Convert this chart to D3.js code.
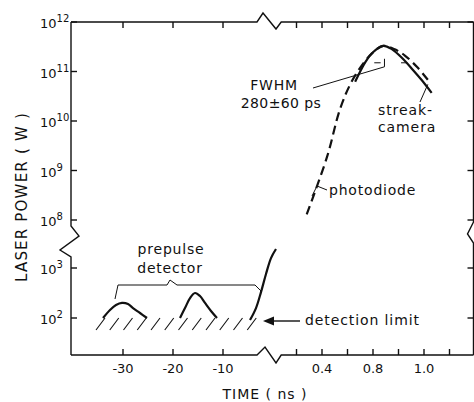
<!DOCTYPE html>
<html>
<head>
<meta charset="utf-8">
<script src="https://cdn.jsdelivr.net/npm/d3@7"></script>
<style>
  body { margin: 0; background: #fff; }
  text { font-family: "DejaVu Sans", sans-serif; fill: #111; }
</style>
</head>
<body>
<div id="chart"></div>
<script>
// values (time in ns, power in W)
const prepulse1T = [-34, -32.6, -31.4, -30.2, -29, -28, -26.6, -25.2];
const prepulse1P = [100, 145, 182, 200, 190, 158, 126, 100];
const prepulse2T = [-18.6, -17.6, -16.6, -15.6, -14.6, -13.6, -12.4, -11.2];
const prepulse2P = [100, 158, 250, 316, 275, 200, 138, 100];
const riseT = [-4.6, -3.4, -2.4, -1.4, -0.4, 0.6];
const riseP = [91, 158, 330, 760, 1580, 2400];
const photodiodeT = [0.28, 0.44, 0.54, 0.62, 0.70, 0.79, 0.88, 0.97, 1.05, 1.15, 1.23];
const photodiodeP = [1.3e8, 1.9e9, 1.7e10, 5.4e10, 1.2e11, 2.3e11, 3.3e11, 2.8e11, 2.1e11, 1.2e11, 6.8e10];
const streakT = [0.66, 0.74, 0.80, 0.88, 0.95, 1.03, 1.11, 1.18, 1.26];
const streakP = [6.2e10, 1.55e11, 2.45e11, 3.3e11, 2.8e11, 1.85e11, 1.1e11, 6.8e10, 3.7e10];

// axis ticks
const leftTicks = [-30, -20, -10];
const rightTicks = [0.2, 0.4, 0.6, 0.8, 1.0, 1.2, 1.4];
const rightLabelAt = [0.4, 0.8, 1.2];
const rightLabels = ["0.4", "0.8", "1.0"];
const upperExp = [12, 11, 10, 9, 8];
const lowerExp = [3, 2];

const W = 474, H = 402;
const svg = d3.select("#chart").append("svg")
    .attr("width", W)
    .attr("height", H);

// broken axes: two time pieces, two power pieces
const xL = d3.scaleLinear().domain([-40.4, 0]).range([71, 273]);
const xR = d3.scaleLinear().domain([0.4, 1.4]).range([322, 449.5]);
const yUp = d3.scaleLog().domain([1e8, 1e12]).range([220, 22]);
const yLo = d3.scaleLog().domain([1e2, 1e3]).range([318, 268]);

const x0 = 71, x1 = 473.5, y0 = 22, y1 = 355;
const bx0 = xL(-3.2), bx1 = xR(0.08);
const by0 = yUp(1e8) + 6, by1 = yLo(Math.pow(10, 3.22));

const ax = svg.append("g")
    .attr("fill", "none")
    .attr("stroke", "#111")
    .attr("stroke-width", 1.4);

// frame with the zigzag breaks
ax.append("path").attr("d", `M${x0},${y0}H${bx0}L${bx0 + 6},${y0 - 9}L${bx0 + 19},${y0 + 7}L${bx1},${y0}H${x1}`);
ax.append("path").attr("d", `M${x0},${y1}H${bx0}L${bx0 + 8},${y1 - 8}L${bx0 + 19},${y1 + 8}L${bx1},${y1}H${x1}`);
ax.append("path").attr("d", `M${x0},${y0}V${by0}L${x0 + 8},${by0 + 10}L${x0 - 11},${by0 + 24}L${x0},${by1}V${y1}`);
ax.append("path").attr("d", `M${x1},${y0}V${by0 - 4}L${x1 - 6},${by0 + 8}L${x1},${by0 + 17}V${y1}`);

// x ticks, top and bottom
const xTickPos = leftTicks.map(d => xL(d)).concat(rightTicks.map(d => xR(d)));
xTickPos.forEach(x => {
  ax.append("line").attr("x1", x).attr("x2", x).attr("y1", y0).attr("y2", y0 + 6);
  ax.append("line").attr("x1", x).attr("x2", x).attr("y1", y1).attr("y2", y1 - 6);
});

// y ticks, left and right
const yTickPos = upperExp.map(e => yUp(Math.pow(10, e))).concat(lowerExp.map(e => yLo(Math.pow(10, e))));
yTickPos.forEach(y => {
  ax.append("line").attr("x1", x0).attr("x2", x0 + 6).attr("y1", y).attr("y2", y);
  ax.append("line").attr("x1", x1).attr("x2", x1 - 6).attr("y1", y).attr("y2", y);
});

// tick labels
svg.selectAll(".xl").data(leftTicks).join("text")
    .attr("x", d => xL(d)).attr("y", 373)
    .attr("text-anchor", "middle").attr("font-size", 13)
    .text(d => "-" + Math.abs(d));
svg.selectAll(".xr").data(rightLabelAt).join("text")
    .attr("x", d => xR(d)).attr("y", 373)
    .attr("text-anchor", "middle").attr("font-size", 13)
    .text((d, i) => rightLabels[i]);

function powLabel(y, e) {
  const t = svg.append("text").attr("x", 40).attr("y", y + 6).attr("font-size", 13);
  t.append("tspan").text("10");
  t.append("tspan").attr("dy", -6).attr("font-size", 10).text(e);
}
upperExp.forEach(e => powLabel(yUp(Math.pow(10, e)), e));
lowerExp.forEach(e => powLabel(yLo(Math.pow(10, e)), e));

// axis titles
svg.append("text")
    .attr("transform", "translate(27,197) rotate(-90)")
    .attr("text-anchor", "middle").attr("font-size", 15)
    .attr("letter-spacing", 1.2)
    .text("LASER POWER ( W )");
svg.append("text")
    .attr("x", 265).attr("y", 399)
    .attr("text-anchor", "middle").attr("font-size", 14)
    .attr("letter-spacing", 1)
    .text("TIME  ( ns )");

// detection limit hatching
const hatchT = d3.range(-35.4, -4, 2.75);
svg.append("g").attr("stroke", "#111").attr("stroke-width", 1.1)
  .selectAll("line").data(hatchT).join("line")
    .attr("x1", d => xL(d)).attr("y1", yLo(Math.pow(10, 1.76)))
    .attr("x2", d => xL(d + 1.8)).attr("y2", yLo(100));

// curves
function drawCurve(ts, ps, xs, ys, dash) {
  const line = d3.line()
      .x(d => xs(d[0]))
      .y(d => ys(d[1]))
      .curve(d3.curveCatmullRom);
  svg.append("path")
      .datum(ts.map((t, i) => [t, ps[i]]))
      .attr("fill", "none")
      .attr("stroke", "#111")
      .attr("stroke-width", 2.2)
      .attr("stroke-dasharray", dash ? "9,5" : null)
      .attr("d", line);
}
drawCurve(prepulse1T, prepulse1P, xL, yLo, false);
drawCurve(prepulse2T, prepulse2P, xL, yLo, false);
drawCurve(riseT, riseP, xL, yLo, false);
drawCurve(photodiodeT, photodiodeP, xR, yUp, true);
drawCurve(streakT, streakP, xR, yUp, false);

// annotations
const ann = svg.append("g").attr("fill", "none").attr("stroke", "#111").attr("stroke-width", 1);

// prepulse detector brace
ann.append("path").attr("d",
  `M${xL(-31.6)},${yLo(Math.pow(10, 2.38))}L${xL(-31)},${yLo(Math.pow(10, 2.66))}` +
  `H${xL(-21.2)}L${xL(-20.6)},${yLo(Math.pow(10, 2.76))}L${xL(-19.2)},${yLo(Math.pow(10, 2.66))}` +
  `H${xL(-3.6)}L${xL(-2.2)},${yLo(Math.pow(10, 2.52))}`);
svg.append("text").attr("x", 171).attr("y", 254)
    .attr("text-anchor", "middle").attr("font-size", 14).attr("letter-spacing", 0.8)
    .text("prepulse");
svg.append("text").attr("x", 170).attr("y", 273)
    .attr("text-anchor", "middle").attr("font-size", 14).attr("letter-spacing", 0.8)
    .text("detector");

// detection limit arrow
ann.append("line").attr("x1", 300).attr("x2", 268).attr("y1", 321).attr("y2", 321).attr("stroke-width", 1.4);
svg.append("path").attr("d", "M263,321L274,316.5L274,325.5Z").attr("fill", "#111");
svg.append("text").attr("x", 305).attr("y", 325)
    .attr("font-size", 14).attr("letter-spacing", 0.9)
    .text("detection limit");

// FWHM marker
const fwhmY = yUp(1.5e11);
ann.append("line").attr("x1", xR(0.81)).attr("x2", xR(0.86)).attr("y1", fwhmY).attr("y2", fwhmY);
ann.append("line").attr("x1", xR(1.02)).attr("x2", xR(1.07)).attr("y1", fwhmY).attr("y2", fwhmY);
ann.append("path").attr("d", `M${xR(0.89)},${fwhmY - 4}V${fwhmY + 4}L313,88`);
svg.append("text").attr("x", 274).attr("y", 90)
    .attr("text-anchor", "middle").attr("font-size", 14).attr("letter-spacing", 0.8)
    .text("FWHM");
svg.append("text").attr("x", 281).attr("y", 108)
    .attr("text-anchor", "middle").attr("font-size", 14).attr("letter-spacing", 0.4)
    .text("280±60 ps");

// streak camera label
ann.append("line").attr("x1", 420).attr("y1", 102).attr("x2", xR(1.23)).attr("y2", yUp(5.5e10));
svg.append("text").attr("x", 378).attr("y", 115).attr("font-size", 14).attr("letter-spacing", 0.9)
    .text("streak-");
svg.append("text").attr("x", 378).attr("y", 132).attr("font-size", 14).attr("letter-spacing", 0.9)
    .text("camera");

// photodiode label
ann.append("path").attr("d", "M312,196L317,186L327,190");
svg.append("text").attr("x", 329).attr("y", 195).attr("font-size", 14).attr("letter-spacing", 0.8)
    .text("photodiode");
</script>
</body>
</html>
